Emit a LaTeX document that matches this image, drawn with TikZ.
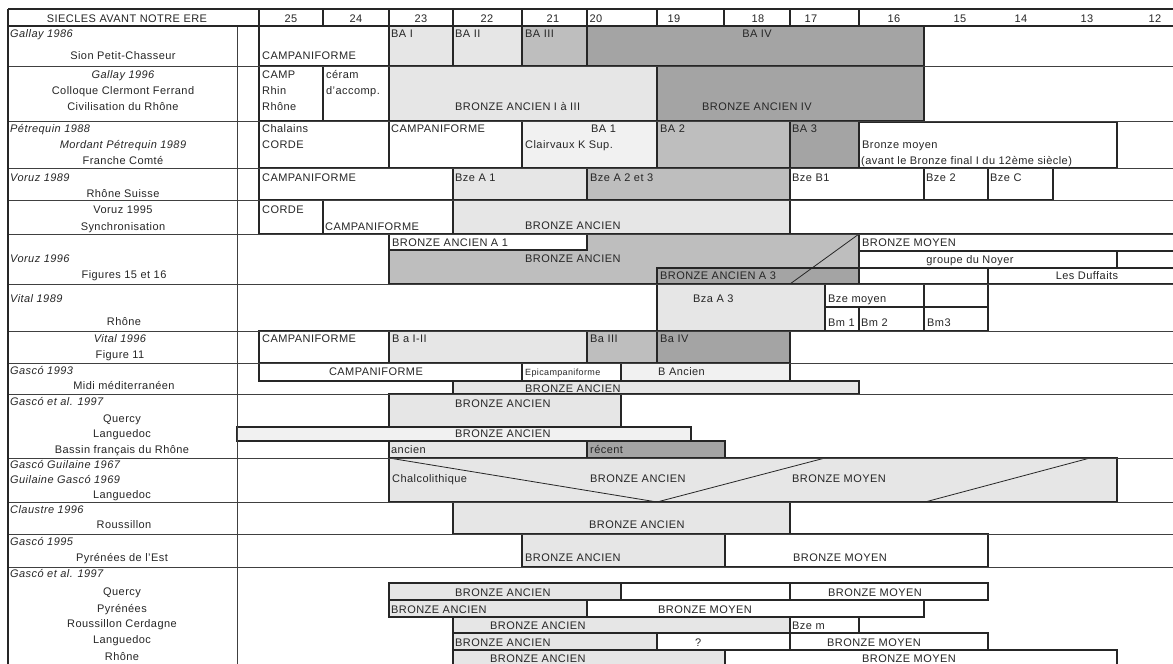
\documentclass[tikz,border=0pt]{standalone}
\usepackage{fontspec}
\setmainfont{Liberation Sans}[LetterSpace=4]
\definecolor{lgr}{HTML}{E6E6E6}
\definecolor{vlg}{HTML}{F1F1F1}
\definecolor{mgr}{HTML}{BEBEBE}
\definecolor{dgr}{HTML}{A4A4A4}
\newcounter{tnc}
\newcommand\bx[5][white]{\filldraw[boxline,fill=#1] (#2,#3) rectangle (#4,#5);}
\newcommand\tl[4][]{\stepcounter{tnc}\node[txt,anchor=base west,#1] (t\arabic{tnc}) at (#2,#3) {#4};}
\newcommand\tm[4][]{\stepcounter{tnc}\node[txt,anchor=base,#1] (t\arabic{tnc}) at (#2,#3) {#4};}
\begin{document}
\begin{tikzpicture}[x=1pt,y=-1pt,
  txt/.style={inner sep=0pt,text=black!85,font=\fontsize{11}{13}\selectfont},
  itx/.style={font=\fontsize{11}{13}\selectfont\itshape},
  smallx/.style={font=\fontsize{9}{11}\selectfont},
  boxline/.style={line width=1.05pt,draw=black!85},
  rowline/.style={line width=0.95pt,draw=black!75},
  hdrline/.style={line width=1.3pt,draw=black!85},
  diag/.style={line width=0.8pt,draw=black!85}]
\useasboundingbox (0,0) rectangle (1173,664);
\fill[white] (0,0) rectangle (1173,664);
% Row 1 Gallay 1986
\bx{259}{26}{389}{66}
\bx[lgr]{389}{26}{453}{66}
\bx[lgr]{453}{26}{522}{66}
\bx[mgr]{522}{26}{587}{66}
\bx[dgr]{587}{26}{924}{66}
% Row 2 Gallay 1996
\bx{259}{66}{323}{121}
\bx{323}{66}{389}{121}
\bx[lgr]{389}{66}{657}{121}
\bx[dgr]{657}{66}{924}{121}
% Row 3 Petrequin
\bx{259}{121}{389}{168}
\bx{389}{121}{522}{168}
\bx[vlg]{522}{121}{657}{168}
\bx[mgr]{657}{121}{790}{168}
\bx[dgr]{790}{121}{859}{168}
\bx{859}{122}{1117}{168}
% Row 4 Voruz 1989
\bx{259}{168}{453}{200}
\bx[lgr]{453}{168}{587}{200}
\bx[mgr]{587}{168}{790}{200}
\bx{790}{168}{924}{200}
\bx{924}{168}{988}{200}
\bx{988}{168}{1053}{200}
% Row 5 Voruz 1995
\bx{259}{200}{323}{234}
\bx{323}{200}{453}{234}
\bx[lgr]{453}{200}{790}{234}
% Row 6 Voruz 1996
\bx[mgr]{389}{234}{859}{284}
\bx[dgr]{657}{268}{859}{284}
\bx{389}{234}{587}{250}
\draw[diag] (790,284) -- (859,234);
\bx{859}{234}{1180}{251}
\bx{859}{251}{1117}{268}
\bx{859}{268}{988}{284}
\bx{988}{268}{1180}{284}
% Row 7 Vital 1989
\bx[lgr]{657}{284}{825}{331}
\bx{825}{284}{924}{307}
\bx{924}{284}{988}{307}
\bx{825}{307}{859}{331}
\bx{859}{307}{924}{331}
\bx{924}{307}{988}{331}
% Row 8 Vital 1996
\bx{259}{331}{389}{363}
\bx[lgr]{389}{331}{587}{363}
\bx[mgr]{587}{331}{657}{363}
\bx[dgr]{657}{331}{790}{363}
% Row 9 Gasco 1993
\bx{259}{363}{522}{381}
\bx{522}{363}{621}{381}
\bx[vlg]{621}{363}{790}{381}
\bx[lgr]{453}{381}{859}{394}
% Row 10 Gasco et al 1997
\bx[lgr]{389}{394}{621}{427}
\bx[vlg]{237}{427}{691}{441}
\bx[lgr]{389}{441}{587}{458}
\bx[dgr]{587}{441}{725}{458}
% Row 11 Gasco Guilaine
\bx[lgr]{389}{458}{1117}{502}
\draw[diag] (389,458) -- (657,502) -- (825,458);
\draw[diag] (925,502) -- (1090,458);
% Row 12 Claustre
\bx[lgr]{453}{502}{790}{534}
% Row 13 Gasco 1995
\bx[lgr]{522}{534}{725}{567}
\bx{725}{534}{988}{567}
% Row 14 Gasco et al 1997
\bx[lgr]{389}{583}{621}{600}
\bx{621}{583}{790}{600}
\bx{790}{583}{988}{600}
\bx[lgr]{389}{600}{587}{617}
\bx{587}{600}{924}{617}
\bx[lgr]{453}{617}{790}{633}
\bx{790}{617}{859}{633}
\bx[lgr]{453}{633}{657}{650}
\bx{657}{633}{790}{650}
\bx{790}{633}{988}{650}
\bx[lgr]{453}{650}{725}{670}
\bx{725}{650}{1117}{670}
% grid lines
\foreach \yy in {26,66,121,168,200,234,284,331,363,394,458,502,534,567}
  \draw[rowline] (8,\yy) -- (1180,\yy);
\draw[hdrline] (8,9) -- (8,670);
\draw[rowline] (237,26) -- (237,670);
\draw[hdrline] (8,9) -- (1180,9);
\draw[hdrline] (8,26) -- (1180,26);
\foreach \xx in {259,323,389,453,522,587,657,724,790,859}
  \draw[hdrline] (\xx,9) -- (\xx,26);
% header text
\tm{127}{22}{SIECLES AVANT NOTRE ERE}
\tm{291}{22}{25}\tm{356}{22}{24}\tm{421}{22}{23}\tm{487}{22}{22}\tm{553}{22}{21}
\tm{596}{22}{20}\tm{674}{22}{19}\tm{758}{22}{18}\tm{811}{22}{17}\tm{894}{22}{16}
\tm{960}{22}{15}\tm{1021}{22}{14}\tm{1087}{22}{13}\tm{1155}{22}{12}
% Row 1
\tl[itx]{10}{37}{Gallay 1986}
\tm{123}{59}{Sion Petit-Chasseur}
\tl{262}{59}{CAMPANIFORME}
\tl{391}{37}{BA I}
\tl{455}{37}{BA II}
\tl{525}{37}{BA III}
\tm{757}{37}{BA IV}
% Row 2
\tm[itx]{123}{78}{Gallay 1996}
\tm{123}{94}{Colloque Clermont Ferrand}
\tm{123}{110}{Civilisation du Rhône}
\tl{262}{78}{CAMP}
\tl{262}{94}{Rhin}
\tl{262}{110}{Rhône}
\tl{326}{78}{céram}
\tl{326}{94}{d'accomp.}
\tl{455}{110}{BRONZE ANCIEN I à III}
\tl{702}{110}{BRONZE ANCIEN IV}
% Row 3
\tl[itx]{10}{132}{Pétrequin 1988}
\tm[itx]{123}{148}{Mordant Pétrequin 1989}
\tm{123}{164}{Franche Comté}
\tl{262}{132}{Chalains}
\tl{262}{148}{CORDE}
\tl{391}{132}{CAMPANIFORME}
\tl{591}{132}{BA 1}
\tl{525}{148}{Clairvaux K Sup.}
\tl{660}{132}{BA 2}
\tl{792}{132}{BA 3}
\tl{862}{148}{Bronze moyen}
\tl{861}{164}{(avant le Bronze final I du 12ème siècle)}
% Row 4
\tl[itx]{10}{181}{Voruz 1989}
\tm{123}{197}{Rhône Suisse}
\tl{262}{181}{CAMPANIFORME}
\tl{455}{181}{Bze A 1}
\tl{590}{181}{Bze A 2 et 3}
\tl{792}{181}{Bze B1}
\tl{926}{181}{Bze 2}
\tl{990}{181}{Bze C}
% Row 5
\tm{123}{213}{Voruz 1995}
\tm{123}{230}{Synchronisation}
\tl{262}{213}{CORDE}
\tl{325}{230}{CAMPANIFORME}
\tl{525}{229}{BRONZE ANCIEN}
% Row 6
\tl[itx]{10}{262}{Voruz 1996}
\tm{124}{278}{Figures 15 et 16}
\tl{392}{246}{BRONZE ANCIEN A 1}
\tl{525}{262}{BRONZE ANCIEN}
\tl{660}{279}{BRONZE ANCIEN A 3}
\tl{862}{246}{BRONZE MOYEN}
\tm{970}{263}{groupe du Noyer}
\tm{1087}{279}{Les Duffaits}
% Row 7
\tl[itx]{10}{302}{Vital 1989}
\tm{124}{325}{Rhône}
\tl{693}{302}{Bza A 3}
\tl{828}{302}{Bze moyen}
\tl{828}{326}{Bm 1}
\tl{861}{326}{Bm 2}
\tl{927}{326}{Bm3}
% Row 8
\tm[itx]{120}{342}{Vital 1996}
\tm{120}{358}{Figure 11}
\tl{262}{342}{CAMPANIFORME}
\tl{392}{342}{B a I-II}
\tl{590}{342}{Ba III}
\tl{660}{342}{Ba IV}
% Row 9
\tl[itx]{10}{374}{Gascó 1993}
\tm{124}{389}{Midi méditerranéen}
\tm{376}{375}{CAMPANIFORME}
\tl[smallx]{525}{375}{Epicampaniforme}
\tl{658}{375}{B Ancien}
\tl{525}{392}{BRONZE ANCIEN}
% Row 10
\tl[itx]{10}{405}{Gascó et al. 1997}
\tm{122}{422}{Quercy}
\tm{122}{437}{Languedoc}
\tm{122}{453}{Bassin français du Rhône}
\tl{455}{407}{BRONZE ANCIEN}
\tl{455}{437}{BRONZE ANCIEN}
\tl{391}{453}{ancien}
\tl{590}{453}{récent}
% Row 11
\tl[itx]{10}{468}{Gascó Guilaine 1967}
\tl[itx]{10}{483}{Guilaine Gascó 1969}
\tm{122}{498}{Languedoc}
\tl{392}{482}{Chalcolithique}
\tl{590}{482}{BRONZE ANCIEN}
\tl{792}{482}{BRONZE MOYEN}
% Row 12
\tl[itx]{10}{513}{Claustre 1996}
\tm{124}{528}{Roussillon}
\tl{589}{528}{BRONZE ANCIEN}
% Row 13
\tl[itx]{10}{545}{Gascó 1995}
\tm{122}{561}{Pyrénées de l'Est}
\tl{525}{561}{BRONZE ANCIEN}
\tl{793}{561}{BRONZE MOYEN}
% Row 14
\tl[itx]{10}{577}{Gascó et al. 1997}
\tm{122}{595}{Quercy}
\tm{122}{612}{Pyrénées}
\tm{122}{627}{Roussillon Cerdagne}
\tm{122}{643}{Languedoc}
\tm{122}{660}{Rhône}
\tl{455}{596}{BRONZE ANCIEN}
\tl{828}{596}{BRONZE MOYEN}
\tl{391}{613}{BRONZE ANCIEN}
\tl{658}{613}{BRONZE MOYEN}
\tl{490}{629}{BRONZE ANCIEN}
\tl{792}{629}{Bze m}
\tl{455}{646}{BRONZE ANCIEN}
\tl{695}{646}{?}
\tl{827}{646}{BRONZE MOYEN}
\tl{490}{662}{BRONZE ANCIEN}
\tl{862}{662}{BRONZE MOYEN}
\end{tikzpicture}
\end{document}
